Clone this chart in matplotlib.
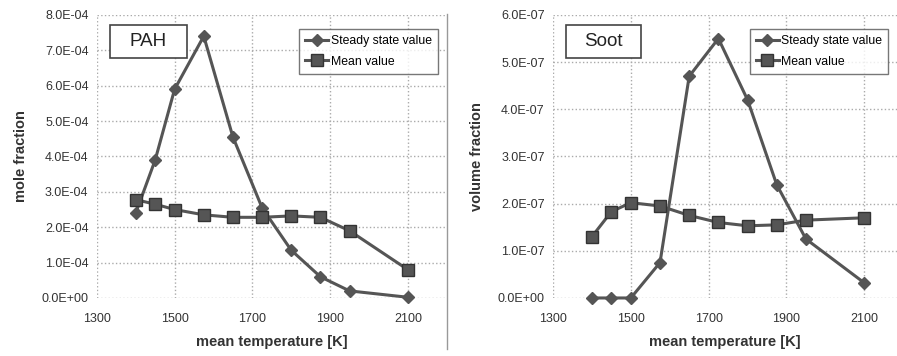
import matplotlib
matplotlib.use("Agg")
import matplotlib.pyplot as plt
from matplotlib.ticker import FuncFormatter
from matplotlib.patches import Rectangle

plt.rcParams['font.family'] = ['Liberation Sans', 'DejaVu Sans']

temp = [1400, 1450, 1500, 1575, 1650, 1725, 1800, 1875, 1950, 2100]

pah_steady = [2.4e-4, 3.9e-4, 5.9e-4, 7.4e-4, 4.55e-4, 2.55e-4, 1.35e-4, 0.6e-4, 0.2e-4, 0.02e-4]
pah_mean = [2.78e-4, 2.65e-4, 2.5e-4, 2.35e-4, 2.28e-4, 2.28e-4, 2.32e-4, 2.28e-4, 1.9e-4, 0.8e-4]

soot_steady = [0.0, 0.0, 0.0, 0.75e-7, 4.7e-7, 5.5e-7, 4.2e-7, 2.4e-7, 1.25e-7, 0.32e-7]
soot_mean = [1.3e-7, 1.83e-7, 2.02e-7, 1.95e-7, 1.75e-7, 1.6e-7, 1.53e-7, 1.55e-7, 1.65e-7, 1.7e-7]

x_ticks = [1300, 1500, 1700, 1900, 2100]

col = '#555555'
fig = plt.figure(figsize=(8.97, 3.56), dpi=100)

panels = [
    ([0.108, 0.163, 0.390, 0.795], pah_steady, pah_mean, 8e-4, 1e-4, 'mole fraction', 'PAH', 2200),
    ([0.6165, 0.163, 0.3835, 0.795], soot_steady, soot_mean, 6e-7, 1e-7, 'volume fraction', 'Soot', 2184),
]

for rect, steady, mean, ymax, ystep, ylabel, name, xmax in panels:
    ax = fig.add_axes(rect)
    ax.plot(temp, steady, color=col, lw=2.2, marker='D', ms=6, mfc=col, mec=col,
            label='Steady state value', clip_on=False, zorder=3)
    ax.plot(temp, mean, color=col, lw=2.2, marker='s', ms=9, mfc=col, mec='#333333',
            label='Mean value', clip_on=False, zorder=3)
    ax.set_xlim(1300, xmax)
    ax.set_ylim(0, ymax)
    ax.set_xticks(x_ticks)
    ax.set_yticks([ystep * i for i in range(int(round(ymax / ystep)) + 1)])
    ax.yaxis.set_major_formatter(FuncFormatter(lambda v, p: f"{v:.1E}"))
    ax.grid(True, color='#aaaaaa', linestyle=':', lw=1)
    for s in ax.spines.values():
        s.set_visible(False)
    ax.tick_params(length=0, labelsize=9, colors='#333333')
    ax.tick_params(axis='x', pad=11)
    ax.tick_params(axis='y', pad=6)
    ax.set_xlabel('mean temperature [K]', fontsize=10.5, fontweight='bold', color='#333333', labelpad=7)
    ax.set_ylabel(ylabel, fontsize=10.5, fontweight='bold', color='#333333', labelpad=10)
    ax.add_patch(Rectangle((0.037, 0.848), 0.22, 0.117, transform=ax.transAxes,
                           fill=True, fc='white', ec='#444444', lw=1.2, zorder=4))
    ax.text(0.147, 0.906, name, transform=ax.transAxes, ha='center', va='center',
            fontsize=13.5, color='#222222', zorder=5)
    leg = ax.legend(loc='upper right', bbox_to_anchor=(0.975, 0.95), borderaxespad=0,
                    fontsize=8.8, frameon=True, fancybox=False, edgecolor='#555555',
                    handlelength=1.9, handletextpad=0.2, borderpad=0.5, labelspacing=0.7)
    leg.get_frame().set_linewidth(1)

fig.add_artist(plt.Line2D([0.498, 0.498], [0.02, 0.96], color='#999999', lw=1))

fig.savefig('out.png', dpi=100)
